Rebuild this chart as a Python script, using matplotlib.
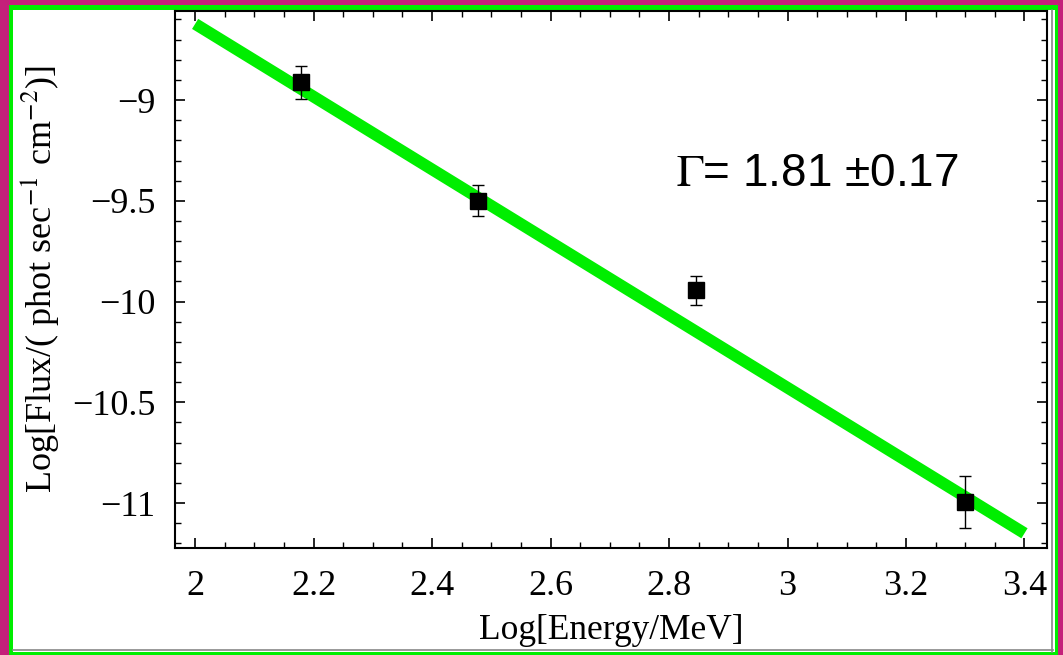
import matplotlib
matplotlib.use("Agg")
import matplotlib.pyplot as plt
from matplotlib.patches import Rectangle
from matplotlib.lines import Line2D
from matplotlib.ticker import MultipleLocator

plt.rcParams["mathtext.fontset"] = "stix"

# Puntos medidos (log E, log flujo, error)
log_energia = [2.178, 2.477, 2.846, 3.300]
log_flujo = [-8.911, -9.500, -9.943, -10.995]
error_flujo = [0.082, 0.077, 0.072, 0.131]

# Ajuste de ley de potencias
ajuste_x = [2.0, 3.4]
ajuste_y = [-8.622, -11.150]
texto_indice = "$\\Gamma$= 1.81 \u00b10.17"

W, H = 1063, 655
fig = plt.figure(figsize=(W / 100, H / 100), dpi=100)
fig.patch.set_facecolor("#c4217a")

# Marcos de colores alrededor del grafico (detras de los ejes)
fig.add_artist(Rectangle((9 / W, 0), (1058 - 9) / W, (655 - 5) / H, zorder=-3,
                         transform=fig.transFigure, facecolor="#00ee00", edgecolor="none"))
fig.add_artist(Rectangle((13 / W, 3 / H), (1055 - 13) / W, (652 - 10) / H, zorder=-2,
                         transform=fig.transFigure, facecolor="white", edgecolor="none"))
fig.add_artist(Line2D([1052 / W, 1052 / W], [3 / H, 1 - 10 / H], transform=fig.transFigure,
                      color="#888888", lw=1.2, zorder=-1))
fig.add_artist(Line2D([13 / W, 1053 / W], [5 / H, 5 / H], transform=fig.transFigure,
                      color="#888888", lw=1.2, zorder=-1))

ax = fig.add_axes([175 / W, 1 - 548 / H, (1046.7 - 175) / W, (548 - 11) / H])
ax.set_facecolor("white")

ax.plot(ajuste_x, ajuste_y, color="#00ee00", lw=8.5, solid_capstyle="butt", zorder=2)
ax.errorbar(log_energia, log_flujo, yerr=error_flujo, fmt="s", color="black",
            markersize=12, ecolor="black", elinewidth=1.0, capsize=4.5,
            capthick=1.0, zorder=3)

ax.text(676, H - 186, texto_indice, transform=None, fontsize=33,
        family="Liberation Sans", ha="left", va="baseline")

ax.set_xlim(1.966, 3.4375)
ax.set_ylim(-11.223, -8.558)

ax.xaxis.set_minor_locator(MultipleLocator(0.05))
ax.yaxis.set_minor_locator(MultipleLocator(0.1))
ax.set_xticks([2, 2.2, 2.4, 2.6, 2.8, 3, 3.2, 3.4])
ax.set_xticklabels(["2", "2.2", "2.4", "2.6", "2.8", "3", "3.2", "3.4"])
ax.set_yticks([-11, -10.5, -10, -9.5, -9])
ax.set_yticklabels(["\u221211", "\u221210.5", "\u221210", "\u22129.5", "\u22129"])

ax.tick_params(which="both", direction="in", top=True, right=True, color="black")
ax.tick_params(which="major", length=7, width=1.2)
ax.tick_params(which="minor", length=4, width=1.0)
ax.tick_params(axis="x", which="major", pad=16)
ax.tick_params(axis="y", which="major", pad=14)
for lab in ax.get_xticklabels() + ax.get_yticklabels():
    lab.set_family("Liberation Serif")
    lab.set_fontsize(26)
for s in ax.spines.values():
    s.set_linewidth(1.5)

ax.set_xlabel("Log[Energy/MeV]", family="Liberation Serif", fontsize=25.5, labelpad=8)
ax.set_ylabel(r"Log[Flux/( phot sec$^{-1}$ cm$^{-2}$)]", family="Liberation Serif",
              fontsize=26, labelpad=8)

fig.savefig("out.png", dpi=100, facecolor=fig.get_facecolor())
